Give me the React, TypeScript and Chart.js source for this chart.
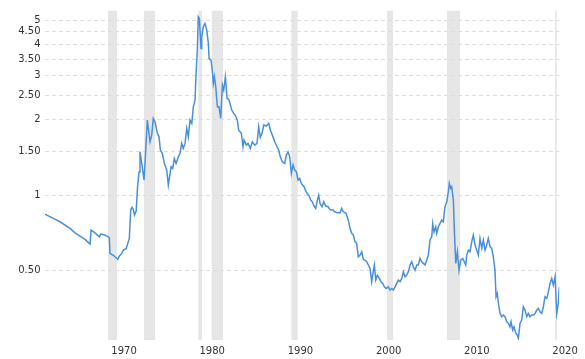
import React, { useEffect, useRef } from "react";
import { Chart, registerables } from "chart.js";

Chart.register(...registerables);

// Time (decimal year) and ratio values
const YEARS: number[] = [
  1961.04, 1961.98, 1962.74, 1963.88, 1964.44, 1965.01, 1965.58, 1966.15, 1966.26, 1966.71,
  1967.2, 1967.36, 1967.73, 1968.22, 1968.33, 1968.41, 1968.79, 1969.29, 1969.47, 1969.74,
  1969.92, 1970.23, 1970.37, 1970.6, 1970.76, 1970.91, 1971.05, 1971.19, 1971.38, 1971.53,
  1971.7, 1971.81, 1972.01, 1972.27, 1972.46, 1972.64, 1972.83, 1972.95, 1973.14, 1973.32,
  1973.51, 1973.78, 1973.97, 1974.12, 1974.34, 1974.57, 1974.84, 1975.02, 1975.22, 1975.33,
  1975.52, 1975.7, 1975.9, 1976.16, 1976.35, 1976.54, 1976.72, 1976.92, 1977.11, 1977.29,
  1977.48, 1977.68, 1977.86, 1978.05, 1978.16, 1978.31, 1978.42, 1978.54, 1978.73, 1978.81,
  1978.99, 1979.18, 1979.38, 1979.56, 1979.64, 1979.86, 1980.01, 1980.12, 1980.24, 1980.4,
  1980.58, 1980.77, 1980.96, 1981.15, 1981.3, 1981.49, 1981.68, 1981.87, 1982.02, 1982.21,
  1982.44, 1982.6, 1982.85, 1983.0, 1983.3, 1983.49, 1983.61, 1983.87, 1984.06, 1984.32,
  1984.55, 1984.82, 1985.08, 1985.27, 1985.45, 1985.65, 1985.84, 1986.13, 1986.41, 1986.59,
  1986.81, 1987.09, 1987.35, 1987.54, 1987.72, 1987.95, 1988.22, 1988.4, 1988.59, 1988.79,
  1988.97, 1989.16, 1989.35, 1989.54, 1989.73, 1989.92, 1990.1, 1990.41, 1990.56, 1990.75,
  1990.94, 1991.17, 1991.35, 1991.54, 1991.73, 1991.92, 1992.07, 1992.22, 1992.45, 1992.64,
  1992.87, 1993.13, 1993.39, 1993.7, 1993.89, 1994.18, 1994.49, 1994.68, 1994.86, 1995.17,
  1995.43, 1995.62, 1995.82, 1996.0, 1996.19, 1996.38, 1996.56, 1996.76, 1996.95, 1997.13,
  1997.32, 1997.52, 1997.7, 1997.89, 1998.08, 1998.27, 1998.38, 1998.54, 1998.72, 1998.95,
  1999.14, 1999.33, 1999.51, 1999.71, 1999.97, 2000.16, 2000.35, 2000.53, 2000.73, 2000.92,
  2001.1, 2001.29, 2001.49, 2001.67, 2001.86, 2002.05, 2002.23, 2002.43, 2002.62, 2002.8,
  2002.99, 2003.19, 2003.37, 2003.56, 2003.75, 2003.93, 2004.13, 2004.32, 2004.5, 2004.69,
  2004.89, 2005.0, 2005.15, 2005.34, 2005.45, 2005.64, 2005.83, 2006.02, 2006.2, 2006.39,
  2006.59, 2006.77, 2006.88, 2007.04, 2007.15, 2007.34, 2007.45, 2007.61, 2007.79, 2007.98,
  2008.17, 2008.4, 2008.58, 2008.74, 2008.86, 2009.04, 2009.23, 2009.42, 2009.6, 2009.8,
  2009.99, 2010.17, 2010.36, 2010.56, 2010.74, 2010.93, 2011.12, 2011.3, 2011.5, 2011.69,
  2011.87, 2012.06, 2012.18, 2012.32, 2012.44, 2012.63, 2012.82, 2013.0, 2013.2, 2013.39,
  2013.57, 2013.76, 2013.88, 2014.07, 2014.22, 2014.41, 2014.59, 2014.71, 2014.9, 2015.09,
  2015.27, 2015.47, 2015.66, 2015.84, 2016.03, 2016.22, 2016.41, 2016.6, 2016.79, 2016.97,
  2017.17, 2017.36, 2017.54, 2017.73, 2017.93, 2018.11, 2018.3, 2018.49, 2018.67, 2018.87,
  2019.06, 2019.24, 2019.35,
];

const VALUES: number[] = [
  0.839, 0.807, 0.782, 0.736, 0.706, 0.685, 0.665, 0.637, 0.724, 0.706,
  0.681, 0.698, 0.694, 0.681, 0.675, 0.584, 0.574, 0.553, 0.57, 0.584,
  0.602, 0.61, 0.631, 0.671, 0.871, 0.893, 0.877, 0.832, 0.863, 1.076,
  1.236, 1.49, 1.339, 1.148, 1.514, 1.996, 1.766, 1.634, 1.738, 2.028,
  1.965, 1.766, 1.711, 1.514, 1.469, 1.339, 1.259, 1.097, 1.221, 1.298,
  1.279, 1.402, 1.339, 1.423, 1.469, 1.61, 1.538, 1.61, 1.849, 1.711,
  1.996, 1.936, 2.256, 2.4, 3.022, 3.805, 5.172, 5.097, 3.865, 4.302,
  4.717, 4.867, 4.576, 4.048, 3.525, 3.47, 3.165, 2.8, 2.975, 2.713,
  2.256, 2.256, 2.028, 2.756, 2.632, 2.975, 2.438, 2.416, 2.329, 2.189,
  2.123, 2.09, 1.996, 1.82, 1.766, 1.561, 1.66, 1.585, 1.61, 1.538,
  1.634, 1.585, 1.61, 1.877, 1.702, 1.766, 1.906, 1.889, 1.936, 1.82,
  1.738, 1.634, 1.561, 1.514, 1.423, 1.359, 1.339, 1.446, 1.49, 1.423,
  1.221, 1.319, 1.259, 1.24, 1.148, 1.166, 1.114, 1.08, 1.047, 1.016,
  1.0, 0.955, 0.94, 0.904, 0.885, 0.955, 1.0, 0.926, 0.898, 0.94,
  0.904, 0.898, 0.871, 0.871, 0.857, 0.85, 0.85, 0.885, 0.857, 0.845,
  0.794, 0.736, 0.703, 0.692, 0.65, 0.641, 0.566, 0.575, 0.593, 0.553,
  0.549, 0.541, 0.525, 0.509, 0.45, 0.5, 0.525, 0.457, 0.478, 0.464,
  0.45, 0.443, 0.429, 0.423, 0.429, 0.417, 0.423, 0.417, 0.429, 0.443,
  0.457, 0.45, 0.464, 0.493, 0.471, 0.478, 0.493, 0.525, 0.541, 0.516,
  0.5, 0.525, 0.525, 0.558, 0.541, 0.533, 0.525, 0.549, 0.575, 0.661,
  0.681, 0.77, 0.713, 0.747, 0.703, 0.747, 0.77, 0.794, 0.782, 0.898,
  0.94, 1.031, 1.114, 1.064, 1.08, 0.955, 0.724, 0.533, 0.593, 0.5,
  0.549, 0.558, 0.541, 0.525, 0.575, 0.602, 0.593, 0.65, 0.692, 0.631,
  0.602, 0.575, 0.671, 0.612, 0.661, 0.602, 0.631, 0.671, 0.621, 0.612,
  0.566, 0.5, 0.392, 0.404, 0.369, 0.336, 0.326, 0.331, 0.326, 0.311,
  0.307, 0.297, 0.311, 0.288, 0.297, 0.28, 0.275, 0.267, 0.307, 0.316,
  0.357, 0.346, 0.326, 0.336, 0.326, 0.331, 0.331, 0.336, 0.346, 0.352,
  0.341, 0.336, 0.357, 0.392, 0.386, 0.41, 0.443, 0.464, 0.436, 0.471,
  0.336, 0.369, 0.427,
];

// Shaded recession periods (start / end, decimal year)
const RECESSION_START: number[] = [1968.19, 1972.27, 1978.42, 1979.94, 1988.97, 1999.82, 2006.62, 2018.87];
const RECESSION_END: number[] = [1969.21, 1973.51, 1978.84, 1981.22, 1989.69, 2000.5, 2008.09, 2019.06];

const X_TICKS: number[] = [1970, 1980, 1990, 2000, 2010, 2020];
const Y_TICKS: number[] = [0.5, 1, 1.5, 2, 2.5, 3, 3.5, 4, 4.5, 5];
const Y_MIN = 0.263;
const Y_MAX = 5.48;

const LINE_COLOR = "#4a90d9";
const RECESSION_COLOR = "#e6e6e6";
const GRID_COLOR = "#dddddd";
const TEXT_COLOR = "#333333";
const FONT_FAMILY = "'DejaVu Sans', Verdana, sans-serif";

const recessionPlugin = {
  id: "recessionShading",
  beforeDraw(chart: any) {
    const { ctx, chartArea, scales } = chart;
    const xs = scales.x;
    if (!xs || !chartArea) return;
    ctx.save();
    ctx.beginPath();
    ctx.rect(chartArea.left, chartArea.top, chartArea.right - chartArea.left, chartArea.bottom - chartArea.top);
    ctx.clip();
    ctx.fillStyle = RECESSION_COLOR;
    for (let i = 0; i < RECESSION_START.length; i++) {
      const x0 = xs.getPixelForValue(RECESSION_START[i]);
      const x1 = xs.getPixelForValue(RECESSION_END[i]);
      ctx.fillRect(x0, chartArea.top, x1 - x0, chartArea.bottom - chartArea.top);
    }
    ctx.restore();
  },
};

export default function App() {
  const canvasRef = useRef<HTMLCanvasElement | null>(null);

  useEffect(() => {
    if (!canvasRef.current) return;
    const points = YEARS.map((x, i) => ({ x, y: VALUES[i] }));
    const chart = new Chart(canvasRef.current, {
      type: "line",
      data: {
        datasets: [
          {
            data: points,
            borderColor: LINE_COLOR,
            borderWidth: 1.5,
            pointRadius: 0,
            pointHoverRadius: 0,
            fill: false,
            tension: 0,
          },
        ],
      },
      options: {
        animation: false,
        responsive: true,
        maintainAspectRatio: false,
        layout: { padding: { top: 10, right: 25.7, left: 0, bottom: 0 } },
        plugins: {
          legend: { display: false },
          tooltip: { enabled: false },
        },
        scales: {
          x: {
            type: "linear",
            min: YEARS[0],
            max: YEARS[YEARS.length - 1],
            grid: { display: false, drawTicks: false },
            border: { display: false },
            ticks: {
              autoSkip: false,
              maxRotation: 0,
              padding: 5,
              color: TEXT_COLOR,
              font: { family: FONT_FAMILY, size: 10 },
              callback: (v: any) => String(v),
            },
            afterBuildTicks: (scale: any) => {
              scale.ticks = X_TICKS.map((v) => ({ value: v }));
            },
            afterFit: (scale: any) => {
              scale.height = 19;
            },
          },
          y: {
            type: "logarithmic",
            min: Y_MIN,
            max: Y_MAX,
            grid: { color: GRID_COLOR, drawTicks: false, lineWidth: 1 },
            border: { display: false, dash: [4, 3] },
            ticks: {
              autoSkip: false,
              padding: 4.5,
              color: TEXT_COLOR,
              font: { family: FONT_FAMILY, size: 10 },
              callback: (v: any) => (Number.isInteger(v) ? String(v) : Number(v).toFixed(2)),
            },
            afterBuildTicks: (scale: any) => {
              scale.ticks = Y_TICKS.map((v) => ({ value: v }));
            },
            afterFit: (scale: any) => {
              scale.width = 45;
            },
          },
        },
      },
      plugins: [recessionPlugin],
    });
    return () => chart.destroy();
  }, []);

  return (
    <div style={{ position: "fixed", left: 0, top: 0, width: 585, height: 359, background: "#ffffff" }}>
      <canvas ref={canvasRef} />
    </div>
  );
}
